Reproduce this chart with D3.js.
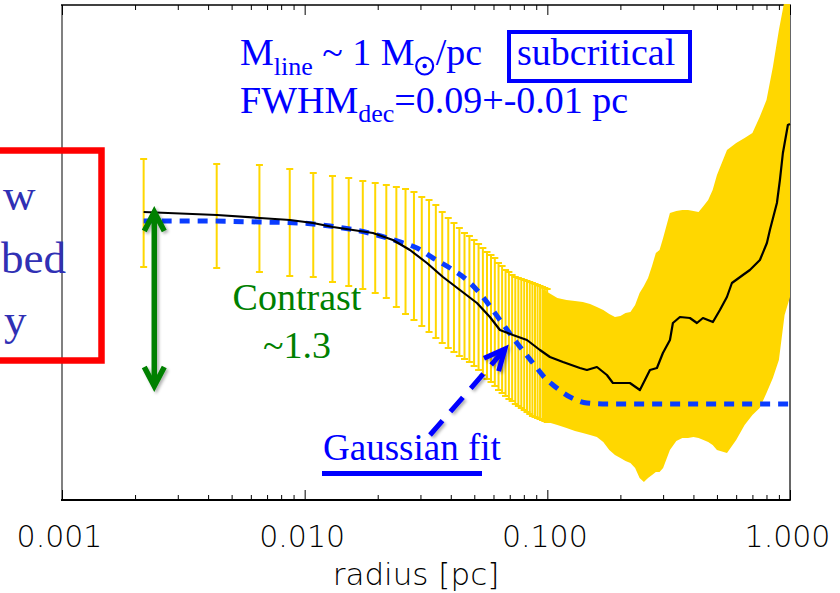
<!DOCTYPE html>
<html>
<head>
<meta charset="utf-8">
<script src="https://cdn.jsdelivr.net/npm/d3@7"></script>
<style>
  html, body { margin: 0; padding: 0; background: #fff; }
  svg { display: block; }
</style>
</head>
<body>
<svg id="chart" width="840" height="593"></svg>
<script>
// Radial profile of a filament: mean intensity (black), scatter per bin (gold),
// Gaussian fit (blue dashes). Intensity in arbitrary units.

const majorTicks = [0.001, 0.01, 0.1, 1];
const majorLabels = ["0.001", "0.010", "0.100", "1.000"];

// inner bins (pc) with their scatter range
const binRadius = [0.00217, 0.00434, 0.00651, 0.00868, 0.01085, 0.01302, 0.01519, 0.01736, 0.01953, 0.0217,
  0.02387, 0.02604, 0.02821, 0.03038, 0.03255, 0.03472, 0.03689, 0.03906, 0.04123, 0.0434,
  0.04557, 0.04774, 0.04991, 0.05208, 0.05425, 0.05642, 0.05859, 0.06076, 0.06293, 0.0651,
  0.06727, 0.06944, 0.07161, 0.07378, 0.07595, 0.07812, 0.08029, 0.08246, 0.08463, 0.0868,
  0.08897, 0.09114, 0.09331, 0.09548, 0.09765, 0.09982];
const binHigh = [68.2, 67.2, 67.0, 66.2, 65.4, 64.8, 64.4, 63.8, 63.4, 63.0,
  62.6, 62.2, 61.6, 60.6, 60.0, 59.0, 57.6, 56.4, 55.4, 54.4,
  53.4, 52.8, 52.0, 51.2, 50.4, 49.6, 49.0, 48.4, 47.4, 46.8,
  46.0, 45.6, 45.0, 44.6, 44.4, 44.2, 44.0, 43.8, 43.6, 43.4,
  43.2, 43.0, 42.8, 42.6, 42.4, 42.2];
const binLow = [46.6, 46.4, 45.6, 44.8, 44.6, 43.6, 42.8, 42.2, 41.4, 40.4,
  38.6, 37.2, 36.0, 34.8, 33.6, 32.4, 31.4, 30.4, 29.6, 28.8,
  28.2, 27.6, 26.8, 26.0, 25.0, 24.2, 23.6, 22.8, 22.0, 21.4,
  20.8, 20.2, 19.8, 19.2, 18.8, 18.4, 18.0, 17.6, 17.2, 16.8,
  16.6, 16.4, 16.2, 16.0, 15.8, 15.6];

// outer bins are so dense that their scatter forms a continuous envelope
const bandRadius = [0.0955, 0.10, 0.11, 0.12, 0.13, 0.14, 0.15, 0.16, 0.17, 0.18,
  0.19, 0.20, 0.21, 0.22, 0.23, 0.24, 0.25, 0.26, 0.27, 0.28,
  0.29, 0.30, 0.32, 0.34, 0.36, 0.38, 0.40, 0.42, 0.44, 0.46,
  0.48, 0.50, 0.55, 0.60, 0.65, 0.70, 0.75, 0.80, 0.85, 0.90, 0.95, 1.00];
const bandHigh = [42.2, 41.6, 40.4, 40.0, 39.8, 39.6, 39.2, 38.6, 38.0, 37.2,
  36.6, 36.8, 37.4, 37.6, 39.0, 41.4, 42.8, 44.4, 46.8, 49.4,
  50.0, 52.4, 57.4, 57.8, 58.0, 58.0, 57.8, 57.6, 58.8, 60.0,
  62.0, 65.0, 70.0, 71.4, 72.4, 73.4, 76.6, 80.0, 86.6, 94.0, 100, 100];
const bandLow = [15.8, 15.6, 15.0, 14.4, 13.8, 13.4, 13.0, 12.6, 11.6, 10.0,
  9.0, 8.4, 7.8, 7.4, 6.4, 4.4, 3.6, 4.4, 5.0, 5.6,
  5.6, 6.4, 10.0, 11.8, 12.4, 12.4, 12.6, 12.4, 12.0, 11.6,
  11.0, 10.0, 9.4, 12.0, 15.0, 17.0, 18.4, 21.4, 24.4, 28.0, 37.0, 40.6];

// mean radial profile
const profileRadius = [0.00217, 0.00435, 0.00654, 0.0087, 0.01082, 0.01308, 0.01911, 0.02311, 0.02716, 0.0319,
  0.03714, 0.04364, 0.05128, 0.058, 0.06378, 0.07216, 0.08241, 0.09324, 0.1025, 0.116,
  0.1362, 0.1456, 0.1601, 0.176, 0.1863, 0.2189, 0.2407, 0.2648, 0.2829, 0.2994,
  0.3201, 0.3292, 0.3519, 0.3869, 0.4135, 0.4377, 0.4812, 0.5143, 0.5496, 0.5763,
  0.6396, 0.6834, 0.7516, 0.8031, 0.8264, 0.8832, 0.9087, 0.9348, 0.9802, 1.0];
const profileValue = [57.6, 57.0, 56.4, 56.0, 55.4, 54.6, 53.4, 52.0, 50.0, 47.4,
  44.6, 42.0, 39.4, 36.6, 34.0, 33.0, 32.0, 30.0, 28.6, 27.6,
  26.4, 26.0, 26.6, 25.0, 23.4, 23.4, 22.0, 26.0, 26.4, 29.4,
  32.0, 35.4, 36.6, 36.4, 35.4, 36.4, 35.6, 38.0, 40.6, 43.4,
  45.0, 46.0, 48.0, 51.4, 54.0, 59.4, 64.0, 69.4, 75.0, 75.2];

// Gaussian fit to the profile
const fitRadius = [0.00217, 0.0037, 0.00654, 0.00956, 0.01271, 0.01986, 0.0247, 0.02902, 0.03379, 0.0397,
  0.04664, 0.05427, 0.06378, 0.07495, 0.08724, 0.09964, 0.1055, 0.124, 0.1456, 0.176, 0.2648, 1.0];
const fitValue = [55.8, 55.8, 55.6, 55.4, 54.8, 53.0, 51.6, 50.4, 48.4, 46.4,
  44.0, 40.6, 36.0, 31.4, 27.4, 24.0, 23.0, 20.6, 19.4, 19.2, 19.2, 19.2];

const W = 840, H = 593;
const plot = { left: 62, right: 790, top: 5, bottom: 500 };

const svg = d3.select("#chart");
svg.append("rect").attr("width", W).attr("height", H).attr("fill", "#fff");

const x = d3.scaleLog().domain([0.001, 1]).range([plot.left, plot.right]);
const y = d3.scaleLinear().domain([0, 99]).range([plot.bottom, plot.top]);

const defs = svg.append("defs");
defs.append("clipPath").attr("id", "plotClip")
  .append("rect").attr("x", plot.left).attr("y", plot.top - 1)
  .attr("width", plot.right - plot.left + 1.5).attr("height", plot.bottom - plot.top + 1);
const shadow = defs.append("filter").attr("id", "shadow")
  .attr("x", "-30%").attr("y", "-30%").attr("width", "160%").attr("height", "160%");
shadow.append("feDropShadow").attr("dx", 2).attr("dy", 2).attr("stdDeviation", 1.6)
  .attr("flood-color", "#000").attr("flood-opacity", 0.3);

// ---- frame and axes ----
const frame = svg.append("g");
frame.append("line").attr("x1", plot.left).attr("x2", plot.left)
  .attr("y1", plot.top).attr("y2", plot.bottom).attr("stroke", "#808080").attr("stroke-width", 2);
frame.append("line").attr("x1", plot.right).attr("x2", plot.right)
  .attr("y1", plot.top).attr("y2", plot.bottom).attr("stroke", "#333").attr("stroke-width", 1.5);
frame.append("line").attr("x1", plot.left - 1).attr("x2", plot.right + 0.75)
  .attr("y1", plot.top).attr("y2", plot.top).attr("stroke", "#000").attr("stroke-width", 1.5);
frame.append("line").attr("x1", plot.left - 1).attr("x2", plot.right + 0.75)
  .attr("y1", plot.bottom).attr("y2", plot.bottom).attr("stroke", "#000").attr("stroke-width", 2);

const minorTicks = x.ticks().filter(t => !majorTicks.some(m => Math.abs(m - t) / m < 1e-6));

const tickFont = "'DejaVu Sans', sans-serif";

const bottomMajor = svg.append("g").attr("transform", `translate(0,${plot.bottom})`)
  .call(d3.axisBottom(x).tickValues(majorTicks)
    .tickFormat((d, i) => majorLabels[i]).tickSizeInner(-10).tickSizeOuter(0));
const bottomMinor = svg.append("g").attr("transform", `translate(0,${plot.bottom})`)
  .call(d3.axisBottom(x).tickValues(minorTicks).tickFormat("").tickSizeInner(-5).tickSizeOuter(0));
const topMajor = svg.append("g").attr("transform", `translate(0,${plot.top})`)
  .call(d3.axisTop(x).tickValues(majorTicks).tickFormat("").tickSizeInner(-10).tickSizeOuter(0));
const topMinor = svg.append("g").attr("transform", `translate(0,${plot.top})`)
  .call(d3.axisTop(x).tickValues(minorTicks).tickFormat("").tickSizeInner(-5).tickSizeOuter(0));

[bottomMajor, bottomMinor, topMajor, topMinor].forEach(g => {
  g.select(".domain").remove();
  g.selectAll(".tick line").attr("stroke", "#000").attr("stroke-width", 1);
});
bottomMajor.selectAll(".tick text")
  .attr("y", 47).attr("dy", 0).attr("x", -3)
  .attr("fill", "#000")
  .style("font-family", tickFont).style("font-size", "30px").style("font-weight", 200);

svg.append("text")
  .attr("x", 416).attr("y", 585).attr("text-anchor", "middle")
  .style("font-family", tickFont).style("font-size", "31px").style("font-weight", 200)
  .attr("fill", "#000").text("radius [pc]");

// ---- data ----
const data = svg.append("g").attr("clip-path", "url(#plotClip)");
const gold = "#FFD700";

const bins = binRadius.map((r, i) => ({ r, hi: binHigh[i], lo: binLow[i] }));
const barG = data.append("g").attr("stroke", gold).attr("stroke-width", 2);
barG.selectAll("line.bar").data(bins).join("line").attr("class", "bar")
  .attr("x1", d => x(d.r)).attr("x2", d => x(d.r))
  .attr("y1", d => y(d.hi)).attr("y2", d => y(d.lo));
barG.selectAll("line.capHi").data(bins).join("line").attr("class", "capHi")
  .attr("x1", d => x(d.r) - 3.5).attr("x2", d => x(d.r) + 3.5)
  .attr("y1", d => y(d.hi)).attr("y2", d => y(d.hi));
barG.selectAll("line.capLo").data(bins).join("line").attr("class", "capLo")
  .attr("x1", d => x(d.r) - 3.5).attr("x2", d => x(d.r) + 3.5)
  .attr("y1", d => y(d.lo)).attr("y2", d => y(d.lo));

const band = bandRadius.map((r, i) => ({ r, hi: bandHigh[i], lo: bandLow[i] }));
data.append("path").datum(band)
  .attr("fill", gold)
  .attr("d", d3.area().x(d => x(d.r)).y0(d => y(d.lo)).y1(d => y(d.hi)));

const fit = fitRadius.map((r, i) => ({ r, v: fitValue[i] }));
data.append("path").datum(fit)
  .attr("fill", "none").attr("stroke", "#0a3cff").attr("stroke-width", 5)
  .attr("stroke-dasharray", "10,8")
  .attr("d", d3.line().x(d => x(d.r)).y(d => y(d.v)).curve(d3.curveMonotoneX));

const prof = profileRadius.map((r, i) => ({ r, v: profileValue[i] }));
data.append("path").datum(prof)
  .attr("fill", "none").attr("stroke", "#000").attr("stroke-width", 2.2)
  .attr("stroke-linejoin", "round")
  .attr("d", d3.line().x(d => x(d.r)).y(d => y(d.v)));

// ---- annotations ----
const serif = "'Liberation Serif', 'Times New Roman', serif";
const green = "#008000";
const blue = "#0000ff";

// contrast arrow
const ax = x(0.0024), aTop = 210, aBot = 388;
const arrow = svg.append("g").attr("filter", "url(#shadow)")
  .attr("stroke", green).attr("stroke-width", 5.5).attr("fill", "none")
  .attr("stroke-linecap", "butt").attr("stroke-linejoin", "miter");
arrow.append("line").attr("x1", ax).attr("x2", ax).attr("y1", aTop + 3).attr("y2", aBot - 3);
arrow.append("polyline").attr("points", `${ax - 10},${aTop + 21} ${ax},${aTop + 2} ${ax + 10},${aTop + 21}`);
arrow.append("polyline").attr("points", `${ax - 10},${aBot - 21} ${ax},${aBot - 2} ${ax + 10},${aBot - 21}`);

svg.append("text").attr("x", 297).attr("y", 310).attr("text-anchor", "middle")
  .style("font-family", serif).style("font-size", "38px").attr("fill", green).text("Contrast");
svg.append("text").attr("x", 297).attr("y", 358).attr("text-anchor", "middle")
  .style("font-family", serif).style("font-size", "38px").attr("fill", green).text("~1.3");

// arrow to the Gaussian fit
const gx0 = 430, gy0 = 435, gx1 = 505, gy1 = 349;
const garrow = svg.append("g").attr("filter", "url(#shadow)")
  .attr("stroke", blue).attr("stroke-width", 5).attr("fill", "none");
garrow.append("line").attr("x1", gx0).attr("y1", gy0).attr("x2", gx1 - 3).attr("y2", gy1 + 3.5)
  .attr("stroke-dasharray", "19,12");
{
  const ang = Math.atan2(gy0 - gy1, gx0 - gx1);
  const L = 23, spread = 25 * Math.PI / 180;
  const p1 = [gx1 + L * Math.cos(ang + spread), gy1 + L * Math.sin(ang + spread)];
  const p2 = [gx1 + L * Math.cos(ang - spread), gy1 + L * Math.sin(ang - spread)];
  garrow.append("polyline").attr("points", `${p1} ${gx1},${gy1} ${p2}`);
}
svg.append("text").attr("x", 323).attr("y", 460)
  .style("font-family", serif).style("font-size", "37px").attr("fill", blue).text("Gaussian fit");
svg.append("rect").attr("x", 322).attr("y", 471).attr("width", 160).attr("height", 5).attr("fill", blue);

// line mass and width
const t1 = svg.append("text").attr("x", 240).attr("y", 65)
  .style("font-family", serif).style("font-size", "38px").attr("fill", blue);
t1.append("tspan").text("M");
t1.append("tspan").attr("dy", 10).style("font-size", "26px").text("line");
t1.append("tspan").attr("dy", -10).text(" ~ 1 M");
const t1End = 240 + t1.node().getComputedTextLength();
svg.append("circle").attr("cx", t1End + 10).attr("cy", 66).attr("r", 8.5)
  .attr("fill", "none").attr("stroke", blue).attr("stroke-width", 2.2);
svg.append("circle").attr("cx", t1End + 10).attr("cy", 66).attr("r", 2.2).attr("fill", blue);
svg.append("text").attr("x", t1End + 21).attr("y", 65)
  .style("font-family", serif).style("font-size", "38px").attr("fill", blue).text("/pc");

svg.append("rect").attr("x", 509).attr("y", 32).attr("width", 181).attr("height", 49)
  .attr("fill", "none").attr("stroke", blue).attr("stroke-width", 4);
svg.append("text").attr("x", 517).attr("y", 65)
  .style("font-family", serif).style("font-size", "38px").attr("fill", blue).text("subcritical");

const t2 = svg.append("text").attr("x", 240).attr("y", 113)
  .style("font-family", serif).style("font-size", "38px").attr("fill", blue);
t2.append("tspan").text("FWHM");
t2.append("tspan").attr("dy", 9).style("font-size", "26px").text("dec");
t2.append("tspan").attr("dy", -9).text("=0.09+-0.01 pc");

// side panel label
svg.append("rect").attr("x", -10).attr("y", 150.5).attr("width", 111.5).attr("height", 210)
  .attr("fill", "none").attr("stroke", "#ff0000").attr("stroke-width", 6.5);
const side = svg.append("g").style("font-family", serif).style("font-size", "45px")
  .attr("fill", "#3030b4").attr("text-anchor", "start");
side.append("text").attr("x", 3).attr("y", 210).text("w");
side.append("text").attr("x", 1).attr("y", 273).text("bed");
side.append("text").attr("x", 4).attr("y", 335).text("y");
</script>
</body>
</html>
